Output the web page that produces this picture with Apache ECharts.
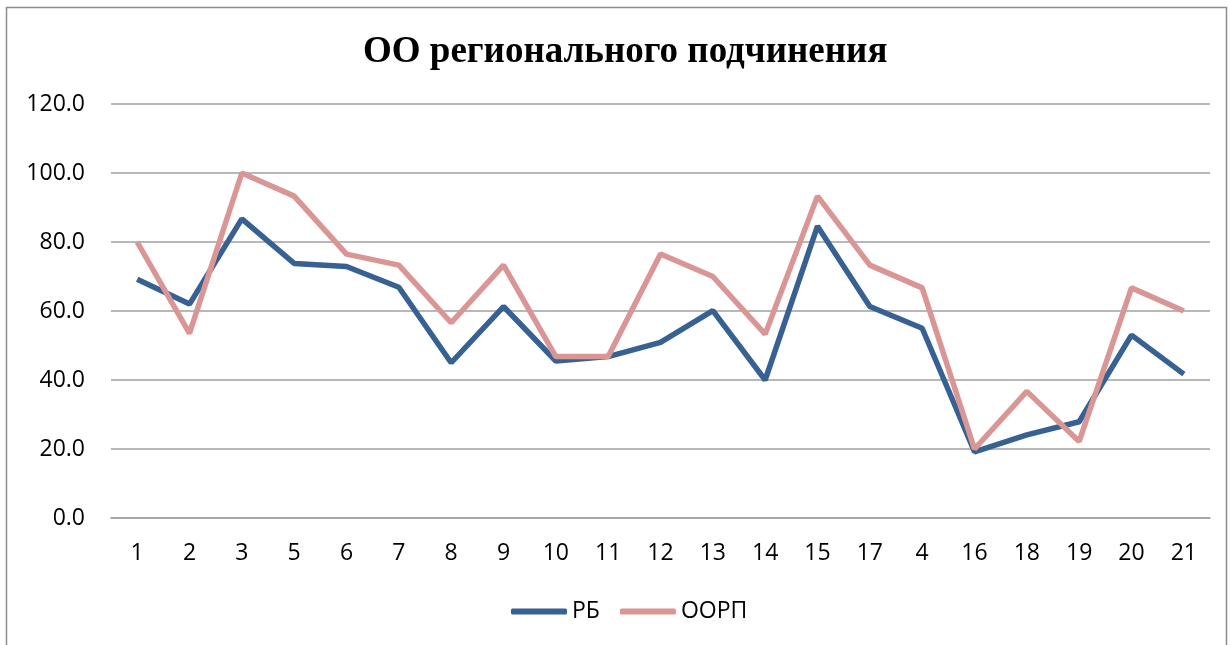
<!DOCTYPE html>
<html>
<head>
<meta charset="utf-8">
<script src="https://cdn.jsdelivr.net/npm/echarts@6/dist/echarts.min.js"></script>
<style>
html,body{margin:0;padding:0;background:#fff;}
#chart{width:1230px;height:645px;}
</style>
</head>
<body>
<div id="chart"></div>
<script>
// категории (в порядке как на графике)
var categories = ['1','2','3','5','6','7','8','9','10','11','12','13','14','15','17','4','16','18','19','20','21'];
var rbValues   = [69.2,62.0,86.7,73.8,72.9,66.9,45.0,61.3,45.5,46.8,50.9,60.1,40.0,84.6,61.3,55.0,19.2,24.1,27.9,53.0,41.7];
var oorpValues = [80.0,53.5,100.0,93.3,76.5,73.3,56.6,73.3,46.8,46.8,76.5,70.0,53.3,93.3,73.3,66.7,20.0,36.7,22.2,66.7,60.0];
var yTicks = [0,20,40,60,80,100,120];

var chart = echarts.init(document.getElementById('chart'));
chart.setOption({
    backgroundColor:'#fff',
    animation:false,
    graphic:[{
        type:'rect',
        shape:{x:6.5,y:7.5,width:1220,height:660},
        style:{fill:'none',stroke:'#8c8c8c',lineWidth:1.5}
    }],
    title:{
        text:'ОО регионального подчинения',
        left:358,
        top:29,
        textStyle:{fontFamily:'Liberation Serif',fontWeight:'bold',fontSize:37,color:'#000'}
    },
    legend:{
        bottom:17,
        left:506,
        itemWidth:56,
        itemHeight:6,
        itemGap:20,
        icon:'roundRect',
        textStyle:{fontFamily:'Open Sans',fontSize:23,color:'#000'},
        data:['РБ','ООРП']
    },
    grid:{left:111,right:20,top:104,bottom:127},
    xAxis:{
        type:'category',
        data:categories,
        boundaryGap:true,
        axisTick:{show:false},
        axisLine:{lineStyle:{color:'#a0a0a0',width:1.5}},
        axisLabel:{fontFamily:'Open Sans',fontSize:23,color:'#000',margin:24}
    },
    yAxis:{
        type:'value',
        min:yTicks[0],
        max:yTicks[yTicks.length-1],
        interval:20,
        axisLine:{show:false},
        axisTick:{show:false},
        splitLine:{lineStyle:{color:'#a0a0a0',width:1.5}},
        axisLabel:{fontFamily:'Open Sans',fontSize:23,color:'#000',margin:26,
            formatter:function(v){return v.toFixed(1);}}
    },
    series:[
        {name:'РБ',type:'line',data:rbValues,symbol:'none',
         lineStyle:{color:'#386193',width:5.5},itemStyle:{color:'#386193'}},
        {name:'ООРП',type:'line',data:oorpValues,symbol:'none',
         lineStyle:{color:'#d99694',width:5.5},itemStyle:{color:'#d99694'}}
    ]
});
</script>
</body>
</html>
